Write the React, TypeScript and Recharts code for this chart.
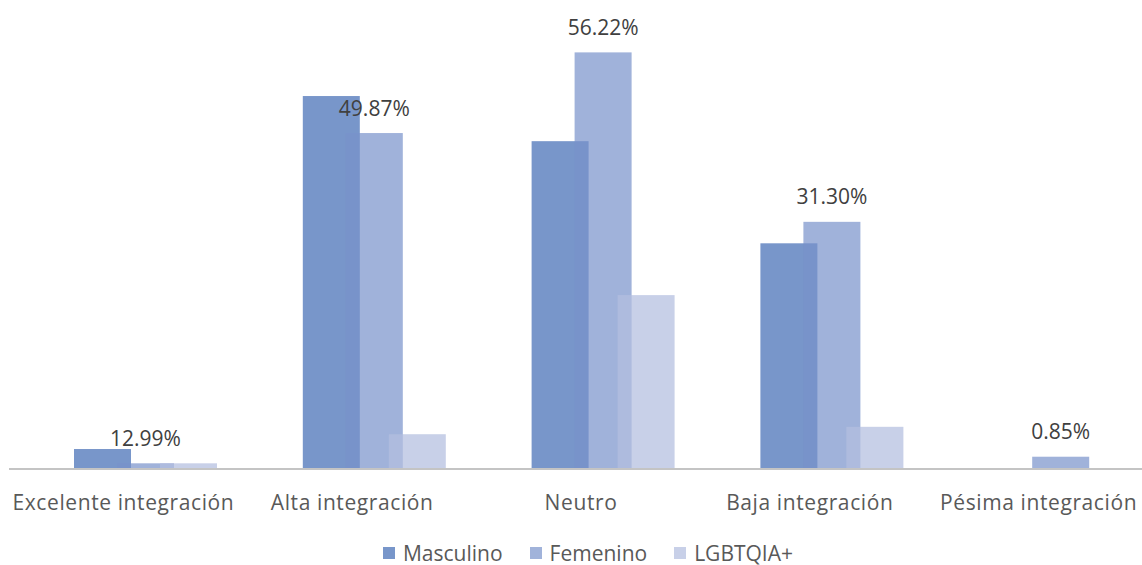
import React from "react";
import { BarChart, Bar, XAxis, YAxis, Legend, LabelList } from "recharts";

const categories = [
  "Excelente integración",
  "Alta integración",
  "Neutro",
  "Baja integración",
  "Pésima integración",
];
const masculino = [2.7, 50.4, 44.3, 30.5, 0];
const femenino = [0.77, 45.4, 56.3, 33.4, 1.66];
const lgbtqia = [0.77, 4.7, 23.5, 5.7, 0];
const femeninoLabels = ["12.99%", "49.87%", "56.22%", "31.30%", "0.85%"];

const seriesNames = ["Masculino", "Femenino", "LGBTQIA+"];
const seriesFills = ["#7896CA", "#7892CA", "#B3BEDF"];
const seriesOpacity = [1, 0.7, 0.73];
const legendColors = ["#7896CA", "#A1B3DA", "#C8D0E8"];

const data = categories.map((c, i) => ({
  name: c,
  masculino: masculino[i],
  femenino: femenino[i],
  lgbtqia: lgbtqia[i],
  femLabel: femeninoLabels[i],
}));

const SHIFT = 22;
const FONT = "'Open Sans', sans-serif";

const makeShape = (fill: string, opacity: number) => (props: any) => {
  const { x, y, width, height } = props;
  if (!height || height <= 0) return <g />;
  return (
    <rect
      x={x + SHIFT}
      y={y}
      width={width}
      height={height}
      fill={fill}
      fillOpacity={opacity}
    />
  );
};

const renderLabel = (props: any) => {
  const { x, y, width, value } = props;
  return (
    <text
      x={x + width / 2 + SHIFT}
      y={y - 17.5}
      textAnchor="middle"
      fontFamily={FONT}
      fontSize={21}
      fill="#404040"
    >
      {value}
    </text>
  );
};

const renderTick = (props: any) => {
  const { x, y, payload } = props;
  return (
    <text
      x={x}
      y={y}
      dy={41}
      textAnchor="middle"
      fontFamily={FONT}
      fontSize={21}
      fill="#595959"
      letterSpacing={0.6}
    >
      {payload.value}
    </text>
  );
};

const renderLegend = () => (
  <div
    style={{
      display: "flex",
      justifyContent: "center",
      alignItems: "center",
      height: 30,
      paddingTop: 6,
      paddingLeft: 14,
      fontFamily: FONT,
      fontSize: 21,
      lineHeight: 1,
      color: "#595959",
      boxSizing: "border-box",
    }}
  >
    {seriesNames.map((n, i) => (
      <div
        key={n}
        style={{
          display: "flex",
          alignItems: "center",
          marginRight: i < seriesNames.length - 1 ? 27 : 0,
        }}
      >
        <span
          style={{
            display: "inline-block",
            width: 12,
            height: 12,
            background: legendColors[i],
            marginRight: 8,
          }}
        />
        <span style={{ lineHeight: 1 }}>{n}</span>
      </div>
    ))}
  </div>
);

export default function App() {
  return (
    <div
      style={{
        width: 1142,
        height: 565,
        overflow: "hidden",
        position: "relative",
        background: "#fff",
      }}
    >
      <style>{"body{margin:0;}"}</style>
      <BarChart
        width={1162}
        height={565}
        data={data}
        margin={{ top: 25, right: 9, bottom: 0, left: 9 }}
        barSize={57}
        barGap={-14}
      >
        <XAxis
          dataKey="name"
          axisLine={{ stroke: "#C4C4C4", strokeWidth: 2 }}
          tickLine={false}
          tickSize={0}
          tickMargin={0}
          height={66}
          interval={0}
          tick={renderTick}
        />
        <YAxis hide domain={[0, 60]} />
        <Legend
          verticalAlign="bottom"
          height={30}
          content={renderLegend}
          wrapperStyle={{ left: 0, width: 1162, height: 30, bottom: 0 }}
        />
        <Bar
          dataKey="masculino"
          name={seriesNames[0]}
          fill={seriesFills[0]}
          isAnimationActive={false}
          shape={makeShape(seriesFills[0], seriesOpacity[0])}
        />
        <Bar
          dataKey="femenino"
          name={seriesNames[1]}
          fill={seriesFills[1]}
          isAnimationActive={false}
          shape={makeShape(seriesFills[1], seriesOpacity[1])}
        >
          <LabelList dataKey="femLabel" content={renderLabel} />
        </Bar>
        <Bar
          dataKey="lgbtqia"
          name={seriesNames[2]}
          fill={seriesFills[2]}
          isAnimationActive={false}
          shape={makeShape(seriesFills[2], seriesOpacity[2])}
        />
      </BarChart>
    </div>
  );
}
